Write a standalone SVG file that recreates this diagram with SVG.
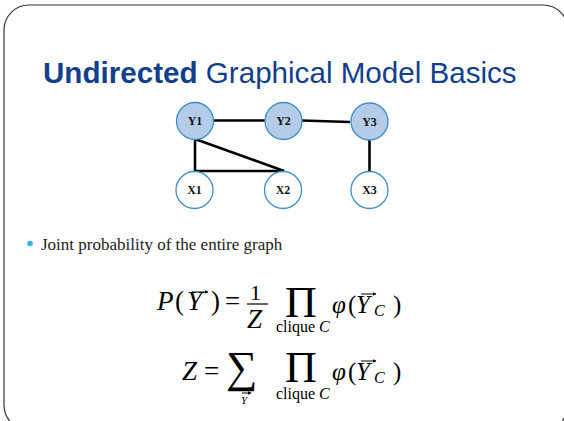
<svg xmlns="http://www.w3.org/2000/svg" width="564" height="421" viewBox="0 0 564 421">
<style>
.node circle{stroke:#3b8fc8;stroke-width:1.3}
.y circle{fill:#b5cce9}
.x circle{fill:#ffffff}
.node text{font-family:"Liberation Serif",serif;font-weight:bold;font-size:12px;fill:#111;text-anchor:middle}
.edge{stroke:#000;stroke-width:2.6;fill:none}
.m{font-family:"Liberation Serif",serif;fill:#000}
.it{font-style:italic}
.vec{stroke:#000;stroke-width:1;fill:none}
.title{font-family:"Liberation Sans",Arial,sans-serif;font-size:29.6px;fill:#123f8c}
</style>
<defs>
<marker id="ah" markerWidth="4" markerHeight="4" refX="3.5" refY="2" orient="auto" markerUnits="userSpaceOnUse">
<path d="M0,0 L4,2 L0,4 Z" fill="#000"/>
</marker>
</defs>
<rect x="4" y="5" width="564" height="425" rx="25" ry="25" fill="#fff" stroke="#333" stroke-width="1.2"/>
<text class="title" x="43" y="83"><tspan font-weight="bold">Undirected</tspan> Graphical Model Basics</text>
<g id="connectors">
<line class="edge" x1="213" y1="120.5" x2="265" y2="120.5"/>
<line class="edge" x1="302" y1="120.5" x2="350" y2="122"/>
<line class="edge" x1="369.5" y1="140" x2="369.5" y2="172"/>
<line class="edge" x1="195" y1="139" x2="195" y2="171"/>
<line class="edge" x1="194" y1="171" x2="284" y2="171"/>
<line class="edge" x1="195" y1="139" x2="284" y2="171"/>
</g>
<g id="Y1" class="node y"><circle cx="195" cy="121" r="18.5"/><text x="195" y="125">Y1</text></g>
<g id="Y2" class="node y"><circle cx="283.5" cy="121" r="18.5"/><text x="283.5" y="125">Y2</text></g>
<g id="Y3" class="node y"><circle cx="369.5" cy="121.5" r="18.5"/><text x="369.5" y="125.5">Y3</text></g>
<g id="X1" class="node x"><circle cx="194.5" cy="190" r="18.5"/><text x="194.5" y="194">X1</text></g>
<g id="X2" class="node x"><circle cx="283" cy="190" r="18.5"/><text x="283" y="194">X2</text></g>
<g id="X3" class="node x"><circle cx="369.5" cy="190" r="18.5"/><text x="369.5" y="194">X3</text></g>
<circle cx="30" cy="243.5" r="2.8" fill="#3ab0f0"/>
<text x="41" y="250" font-family="Liberation Serif, serif" font-size="17" fill="#222">Joint probability of the entire graph</text>
<g id="formula1">
<text class="m it" x="157" y="310" font-size="27">P</text>
<text class="m" x="175" y="310" font-size="27">(</text>
<text class="m it" x="187" y="310" font-size="27">Y</text>
<text class="m" x="211" y="310" font-size="27">)</text>
<path class="vec" d="M192,292 H208" marker-end="url(#ah)"/>
<text class="m" x="225" y="310" font-size="27">=</text>
<text class="m" x="250" y="300" font-size="22">1</text>
<line x1="247" y1="304" x2="268" y2="304" stroke="#000" stroke-width="1.2"/>
<text class="m it" x="247" y="328" font-size="27">Z</text>
<text class="m" x="285" y="317" font-size="44">Π</text>
<text class="m" x="276" y="332" font-size="16">clique <tspan class="it">C</tspan></text>
<text class="m it" x="332" y="313" font-size="25">φ</text>
<text class="m" x="348" y="313" font-size="25">(</text>
<text class="m it" x="356" y="313" font-size="25">Y</text>
<path class="vec" d="M361,294 H376" marker-end="url(#ah)"/>
<text class="m it" x="374" y="316" font-size="16">C</text>
<text class="m" x="393" y="313" font-size="25">)</text>
</g>
<g id="formula2">
<text class="m it" x="182" y="380" font-size="27">Z</text>
<text class="m" x="204" y="380" font-size="27">=</text>
<text class="m" x="226" y="382" font-size="44">∑</text>
<text class="m it" x="241" y="404" font-size="11">Y</text>
<path class="vec" d="M242,393 H251" marker-end="url(#ah)"/>
<text class="m" x="285" y="382" font-size="44">Π</text>
<text class="m" x="276" y="399" font-size="16">clique <tspan class="it">C</tspan></text>
<text class="m it" x="332" y="380" font-size="25">φ</text>
<text class="m" x="348" y="380" font-size="25">(</text>
<text class="m it" x="356" y="380" font-size="25">Y</text>
<path class="vec" d="M361,361 H376" marker-end="url(#ah)"/>
<text class="m it" x="374" y="383" font-size="16">C</text>
<text class="m" x="393" y="380" font-size="25">)</text>
</g>
</svg>
